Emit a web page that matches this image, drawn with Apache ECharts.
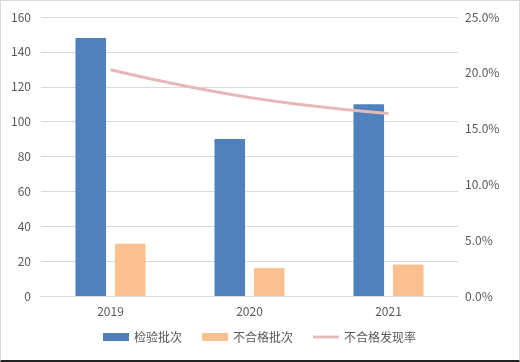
<!DOCTYPE html>
<html><head><meta charset="utf-8">
<script src="https://cdn.jsdelivr.net/npm/echarts@6/dist/echarts.min.js"></script>
<style>
html,body{margin:0;padding:0;background:#fff;}
#frame{position:absolute;left:0;top:0;width:518px;height:359px;border:1px solid #d9d9d9;border-bottom:2px solid #222;}
#c{position:absolute;left:0;top:0;width:520px;height:362px;}
</style></head>
<body><div id="frame"></div><div id="c"></div>
<script>
var categories = ['2019', '2020', '2021'];
var inspected = [148, 90, 110];
var failed = [30, 16, 18];
var failRate = [20.27, 17.78, 16.36];
var leftTicks = [0, 20, 40, 60, 80, 100, 120, 140, 160];
var rightTicks = ['0.0%', '5.0%', '10.0%', '15.0%', '20.0%', '25.0%'];

var font = '"Noto Sans CJK SC", "Microsoft YaHei", sans-serif';
var chart = echarts.init(document.getElementById('c'), null, {renderer: 'canvas'});
chart.setOption({
  animation: false,
  backgroundColor: 'transparent',
  textStyle: {fontFamily: font},
  grid: {left: 41, right: 62, top: 17, bottom: 66},
  legend: {
    bottom: 14, left: 98, itemWidth: 26, itemHeight: 8, itemGap: 20,
    textStyle: {fontSize: 12, color: '#595959', fontFamily: font},
    data: [
      {name: '检验批次', icon: 'rect'},
      {name: '不合格批次', icon: 'rect'},
      {name: '不合格发现率', icon: 'path://M0,0 M0,2.6 L26,2.6 L26,5.4 L0,5.4 Z M26,8'}
    ]
  },
  xAxis: {
    type: 'category', data: categories,
    axisLine: {lineStyle: {color: '#d9d9d9'}},
    axisTick: {show: false},
    axisLabel: {color: '#595959', fontSize: 12, margin: 9}
  },
  yAxis: [{
    type: 'value', min: leftTicks[0], max: leftTicks[leftTicks.length - 1], interval: 20,
    axisLine: {show: false}, axisTick: {show: false},
    axisLabel: {color: '#595959', fontSize: 12, margin: 10},
    splitLine: {lineStyle: {color: '#d9d9d9'}}
  }, {
    type: 'value', min: 0, max: 25, interval: 5,
    axisLine: {show: false}, axisTick: {show: false},
    axisLabel: {color: '#595959', fontSize: 12, margin: 7,
      formatter: function (v) { return rightTicks[Math.round(v / 5)]; }},
    splitLine: {show: false}
  }],
  series: [{
    name: '检验批次', type: 'bar', data: inspected, barWidth: '22%', barGap: '29%',
    itemStyle: {color: '#4F81BD'}
  }, {
    name: '不合格批次', type: 'bar', data: failed, barWidth: '22%',
    itemStyle: {color: '#FAC090'}
  }, {
    name: '不合格发现率', type: 'line', yAxisIndex: 1, data: failRate, smooth: true,
    symbol: 'none', lineStyle: {color: '#E6B9B8', width: 3}, itemStyle: {color: '#E6B9B8'}
  }]
});
</script></body></html>
